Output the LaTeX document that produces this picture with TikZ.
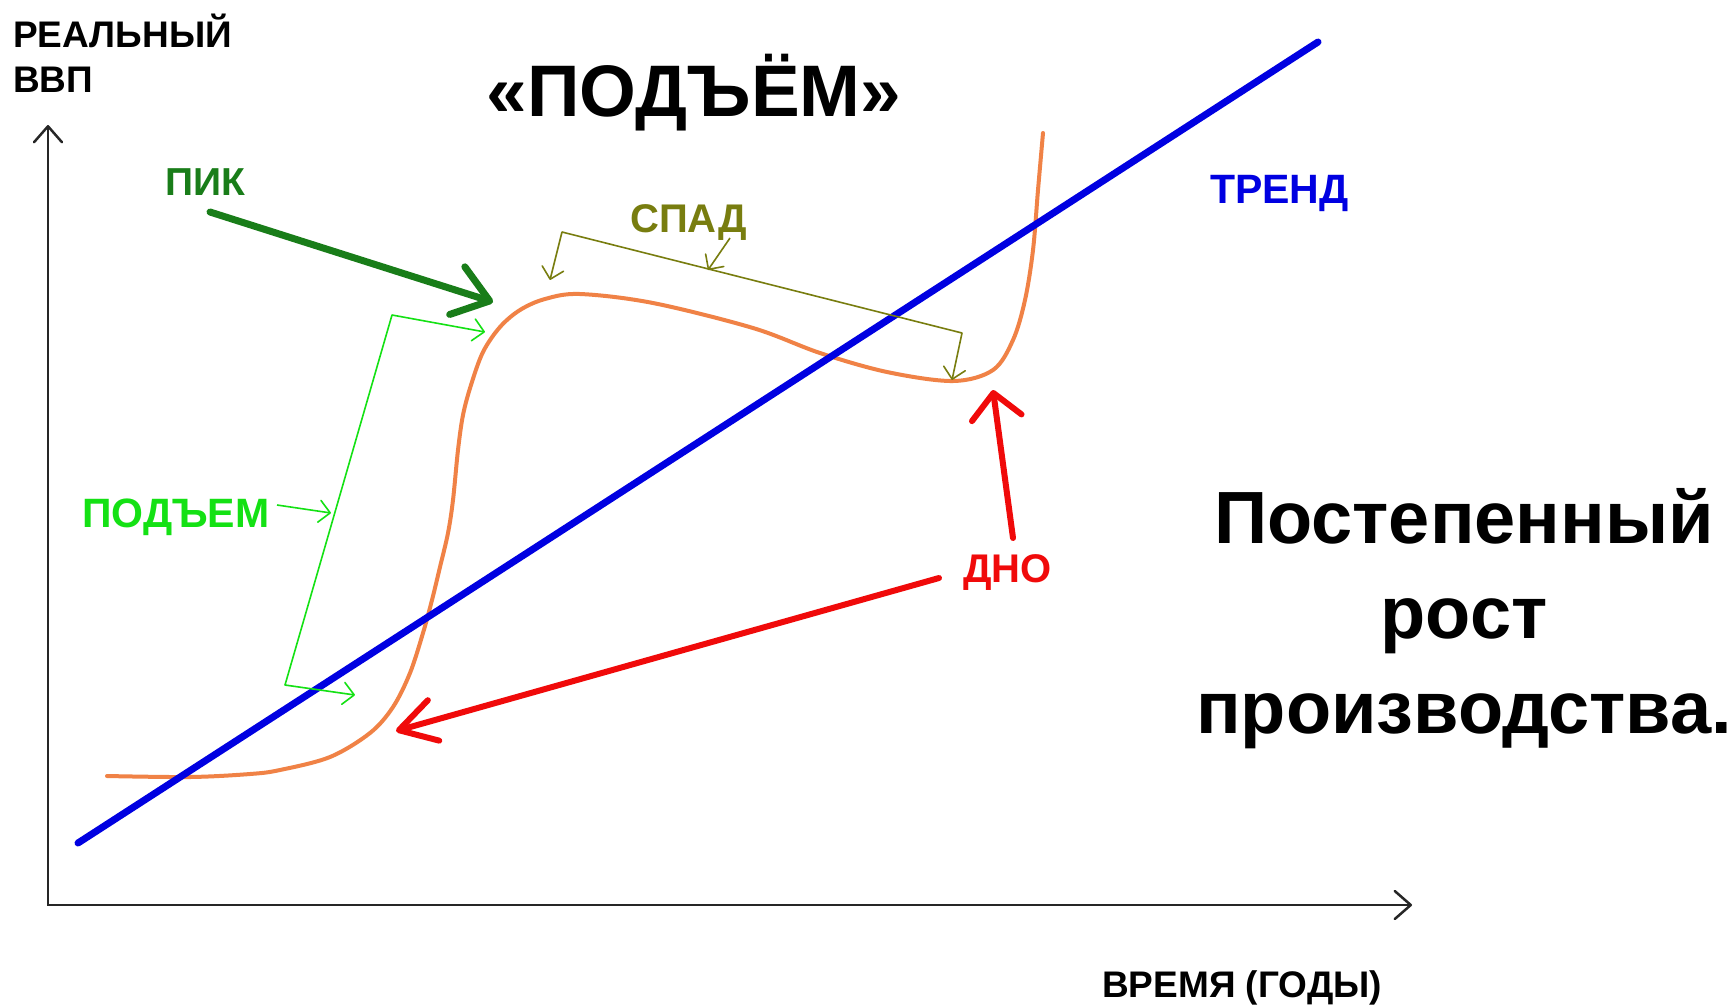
\documentclass[tikz,border=0pt]{standalone}
\usepackage{fontspec}
\setmainfont{Liberation Sans}
\usetikzlibrary{arrows.meta}
\definecolor{pikgreen}{RGB}{25,125,25}
\definecolor{olivec}{RGB}{120,125,15}
\definecolor{upgreen}{RGB}{20,225,20}
\definecolor{trendblue}{RGB}{0,0,225}
\definecolor{curveorange}{RGB}{240,130,70}
\definecolor{dnored}{RGB}{240,10,10}
\tikzset{
  axtip/.tip={Straight Barb[length=16pt,width=28pt,round]},
  smalltip/.tip={Straight Barb[length=11pt,width=22pt,round]},
}
\begin{document}
\begin{tikzpicture}[x=1pt,y=-1pt,
  lbl/.style={inner sep=0pt, anchor=base west, font=\bfseries},
  axisline/.style={line width=2.5pt, black!85, line join=miter},
  thinline/.style={line width=1.6pt, line join=round},
  bigarrow/.style={line cap=round, line join=round},
]
\useasboundingbox (0,0) rectangle (1736,1005);
\fill[white] (0,0) rectangle (1736,1005);

% axes
\coordinate (ytip) at (48,125);
\coordinate (origin) at (48,905);
\coordinate (xtip) at (1412,905);
\draw[axisline, axtip-axtip] (ytip) -- (origin) -- (xtip);

% orange curve
\draw[curveorange, line width=4pt, line cap=round] plot[smooth, tension=0.55] coordinates {
 (107,776) (190,777) (250,774) (280,770) (330,757) (370,733) (393,707)
 (410,673) (423,633) (432,600) (440,567) (448,533) (453,500) (458,450)
 (463,415) (471,385) (483,352) (500,327) (520,310) (545,299) (580,294) (653,303)
 (753,328) (820,353) (887,372) (953,381) (993,370) (1013,340) (1025,300)
 (1033,250) (1038,190) (1043,133)};

% trend line
\coordinate (t0) at (78,843);
\coordinate (t1) at (1318,42);
\draw[trendblue, line width=7pt, line cap=round] (t0) -- (t1);

% labels
\node[lbl, font=\bfseries\fontsize{37}{44}\selectfont] (real1) at (13,47) {РЕАЛЬНЫЙ};
\node[lbl, font=\bfseries\fontsize{37}{44}\selectfont] (real2) at (13,92) {ВВП};
\node[inner sep=0pt, anchor=base, font=\bfseries\fontsize{73}{80}\selectfont] (title) at (694,116) {«ПОДЪЁМ»};
\node[lbl, pikgreen, font=\bfseries\fontsize{39}{44}\selectfont] (pik) at (165,195) {ПИК};
\node[lbl, olivec, font=\bfseries\fontsize{40}{44}\selectfont] (spad) at (630,232) {СПАД};
\node[lbl, trendblue, font=\bfseries\fontsize{41}{44}\selectfont] (trend) at (1210,203) {ТРЕНД};
\node[lbl, upgreen, font=\bfseries\fontsize{41}{44}\selectfont] (podem) at (82,527) {ПОДЪЕМ};
\node[lbl, dnored, font=\bfseries\fontsize{40}{44}\selectfont] (dno) at (963,582) {ДНО};
\node[inner sep=0pt, anchor=base, align=center, font=\bfseries\fontsize{74}{95}\selectfont] (growth) at (1464,733) {Постепенный\\рост\\производства.};
\node[lbl, font=\bfseries\fontsize{37}{40}\selectfont] (time) at (1102,997) {ВРЕМЯ (ГОДЫ)};

% PIK arrow
\coordinate (pikS) at (210,212);
\coordinate (pikT) at (493,302);
\draw[pikgreen, line width=7pt, bigarrow, -{Straight Barb[length=34pt,width=50pt,round]}] (pikS) -- (pikT);

% SPAD bracket
\coordinate (spL) at (550,280);
\coordinate (spLc) at (562,232);
\coordinate (spRc) at (962,333);
\coordinate (spR) at (952,380);
\coordinate (spM0) at (730,238);
\coordinate (spM1) at (708,270);
\draw[olivec, thinline, smalltip-smalltip] (spL) -- (spLc) -- (spRc) -- (spR);
\draw[olivec, thinline, -smalltip] (spM0) -- (spM1);

% PODEM bracket
\coordinate (upT) at (485,332);
\coordinate (upTc) at (392,315);
\coordinate (upBc) at (285,685);
\coordinate (upB) at (355,695);
\coordinate (upM0) at (277,505);
\coordinate (upM1) at (331,513);
\draw[upgreen, thinline, smalltip-smalltip] (upT) -- (upTc) -- (upBc) -- (upB);
\draw[upgreen, thinline, -smalltip] (upM0) -- (upM1);

% DNO arrows
\coordinate (dnoA) at (939,578);
\coordinate (dnoAT) at (396,731);
\coordinate (dnoB) at (1013,538);
\coordinate (dnoBT) at (993,390);
\draw[dnored, line width=6pt, bigarrow, -{Straight Barb[length=36pt,width=42pt,round]}] (dnoA) -- (dnoAT);
\draw[dnored, line width=6pt, bigarrow, -{Straight Barb[length=25pt,width=50pt,round]}] (dnoB) -- (dnoBT);
\end{tikzpicture}
\end{document}
